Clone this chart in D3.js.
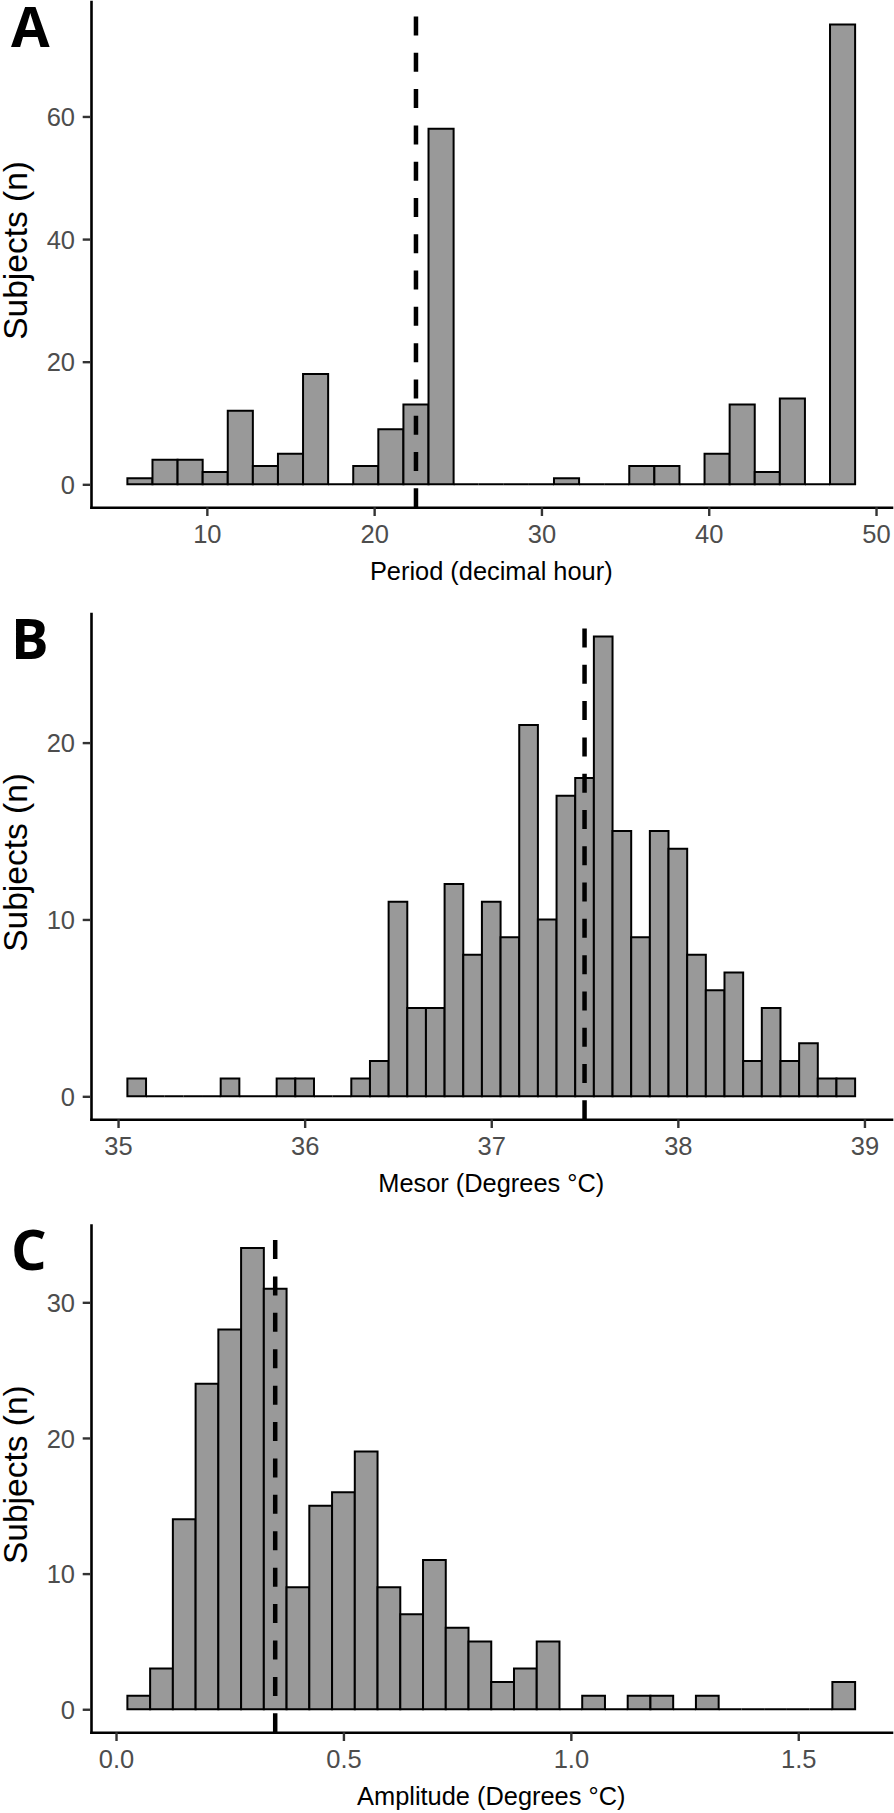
<!DOCTYPE html>
<html>
<head>
<meta charset="utf-8">
<script src="https://cdn.jsdelivr.net/npm/d3@7"></script>
<style>
  html, body { margin: 0; padding: 0; background: #ffffff; }
  svg { display: block; }
</style>
</head>
<body>
<svg id="chart" width="894" height="1813"></svg>
<script>
// ---------- DATA ----------
// Panel A: Period (decimal hour), bins of 1.5 h starting at 5.25
const periodCounts = [1, 4, 4, 2, 12, 3, 5, 18, 0, 3, 9, 13, 58, 0, 0, 0, 0, 1, 0, 0, 3, 3, 0, 5, 13, 2, 14, 0, 75];
const periodBinStart = 5.25;
const periodBinWidth = 1.5;
const periodMedian = 22.5;
const periodXTicks = [10, 20, 30, 40, 50];
const periodYTicks = [0, 20, 40, 60];

// Panel B: Mesor (Degrees °C), bins of 0.1 starting at 35.05
const mesorCounts = [1, 0, 0, 0, 0, 1, 0, 0, 1, 1, 0, 0, 1, 2, 11, 5, 5, 12, 8, 11, 9, 21, 10, 17, 18, 26, 15, 9, 15, 14, 8, 6, 7, 2, 5, 2, 3, 1, 1];
const mesorBinStart = 35.05;
const mesorBinWidth = 0.1;
const mesorMedian = 37.5;
const mesorXTicks = [35, 36, 37, 38, 39];
const mesorYTicks = [0, 10, 20];

// Panel C: Amplitude (Degrees °C), bins of 0.05 starting at 0.025
const amplitudeCounts = [1, 3, 14, 24, 28, 34, 31, 9, 15, 16, 19, 9, 7, 11, 6, 5, 2, 3, 5, 0, 1, 0, 1, 1, 0, 1, 0, 0, 0, 0, 0, 2];
const amplitudeBinStart = 0.025;
const amplitudeBinWidth = 0.05;
const amplitudeMedian = 0.35;
const amplitudeXTicks = [0.0, 0.5, 1.0, 1.5];
const amplitudeYTicks = [0, 10, 20, 30];

const panelLabels = ["A", "B", "C"];
const xTitles = ["Period (decimal hour)", "Mesor (Degrees °C)", "Amplitude (Degrees °C)"];
const yTitle = "Subjects (n)";

// ---------- LAYOUT ----------
const panels = [
  { label: panelLabels[0], counts: periodCounts, start: periodBinStart, width: periodBinWidth, median: periodMedian,
    xticks: periodXTicks, yticks: periodYTicks, xtitle: xTitles[0], fmt: d3.format("d"), top: 1.5, bottom: 507.3 },
  { label: panelLabels[1], counts: mesorCounts, start: mesorBinStart, width: mesorBinWidth, median: mesorMedian,
    xticks: mesorXTicks, yticks: mesorYTicks, xtitle: xTitles[1], fmt: d3.format("d"), top: 613.5, bottom: 1119.3 },
  { label: panelLabels[2], counts: amplitudeCounts, start: amplitudeBinStart, width: amplitudeBinWidth, median: amplitudeMedian,
    xticks: amplitudeXTicks, yticks: amplitudeYTicks, xtitle: xTitles[2], fmt: d3.format(".1f"), top: 1225, bottom: 1732.3 }
];

const left = 91, right = 891.5;
const FONT = "'Liberation Sans', Arimo, Arial, Helvetica, sans-serif";

const svg = d3.select("#chart");
svg.append("rect").attr("width", 894).attr("height", 1813).attr("fill", "#ffffff");

panels.forEach(p => {
  const n = p.counts.length;
  const end = p.start + n * p.width;
  const xr = end - p.start;
  const x = d3.scaleLinear()
    .domain([p.start - 0.05 * xr, end + 0.05 * xr])
    .range([left, right]);
  const maxC = d3.max(p.counts);
  const y = d3.scaleLinear()
    .domain([-0.05 * maxC, 1.05 * maxC])
    .range([p.bottom, p.top]);

  const g = svg.append("g");

  // bars (including zero-count bins, which show as a baseline outline)
  const bins = p.counts.map((c, i) => ({ x0: p.start + i * p.width, x1: p.start + (i + 1) * p.width, c }));
  g.append("g").selectAll("path")
    .data(bins)
    .join("path")
    .attr("d", b => {
      const x0 = x(b.x0), x1 = x(b.x1), y0 = y(0), y1 = y(b.c);
      return `M${x0},${y0}V${y1}H${x1}V${y0}Z`;
    })
    .attr("fill", "#999999")
    .attr("stroke", "#000000")
    .attr("stroke-width", 2)
    .attr("stroke-linejoin", "miter");

  // dashed median line: gap at the top, dash touching the axis at the bottom
  const dash = 19, topGap = 15;
  const span = p.bottom - p.top;
  const k = Math.round((span - topGap - dash) / 36);
  const period = (span - topGap - dash) / k;
  const gap = period - dash;
  g.append("path")
    .attr("d", `M${x(p.median)},${p.top}V${p.bottom}`)
    .attr("stroke", "#000000")
    .attr("stroke-width", 4.5)
    .attr("stroke-dasharray", `${dash},${gap}`)
    .attr("stroke-dashoffset", dash + gap - topGap)
    .attr("fill", "none");

  // y axis
  const yAxis = d3.axisLeft(y).tickValues(p.yticks).tickSizeInner(8.3).tickSizeOuter(0).tickPadding(7.7)
    .tickFormat(d3.format("d"));
  const ya = g.append("g").attr("transform", `translate(${left},0)`).call(yAxis);
  ya.select(".domain").attr("stroke", "#000000").attr("stroke-width", 2.6).attr("stroke-linecap", "square");
  ya.selectAll(".tick line").attr("stroke", "#333333").attr("stroke-width", 2.4);
  ya.selectAll(".tick text").attr("fill", "#4D4D4D").style("font-family", FONT).style("font-size", "25.5px")
    .attr("dy", "0.36em");

  // x axis
  const xAxis = d3.axisBottom(x).tickValues(p.xticks).tickSizeInner(8.7).tickSizeOuter(0).tickFormat(p.fmt);
  const xa = g.append("g").attr("transform", `translate(0,${p.bottom})`).call(xAxis);
  xa.select(".domain").attr("stroke", "#000000").attr("stroke-width", 2.6).attr("stroke-linecap", "square");
  xa.selectAll(".tick line").attr("stroke", "#333333").attr("stroke-width", 2.4);
  xa.selectAll(".tick text").attr("fill", "#4D4D4D").style("font-family", FONT).style("font-size", "25.5px")
    .attr("y", 36).attr("dy", null);

  // x title
  g.append("text")
    .attr("x", (left + right) / 2)
    .attr("y", p.bottom + 72.7)
    .attr("text-anchor", "middle")
    .attr("fill", "#000000")
    .style("font-family", FONT)
    .style("font-size", "25.4px")
    .text(p.xtitle);

  // y title
  const cy = (p.top + p.bottom) / 2 - 4;
  g.append("text")
    .attr("transform", `translate(27,${cy}) rotate(-90)`)
    .attr("text-anchor", "middle")
    .attr("fill", "#000000")
    .style("font-family", FONT)
    .style("font-size", "33.5px")
    .text(yTitle);

  // panel label
  g.append("text")
    .attr("x", 11)
    .attr("y", p.top + 45)
    .attr("fill", "#000000")
    .style("font-family", "'Open Sans', 'Liberation Sans', Arial, sans-serif")
    .style("font-weight", "700")
    .style("font-size", "56px")
    .text(p.label);
});
</script>
</body>
</html>
